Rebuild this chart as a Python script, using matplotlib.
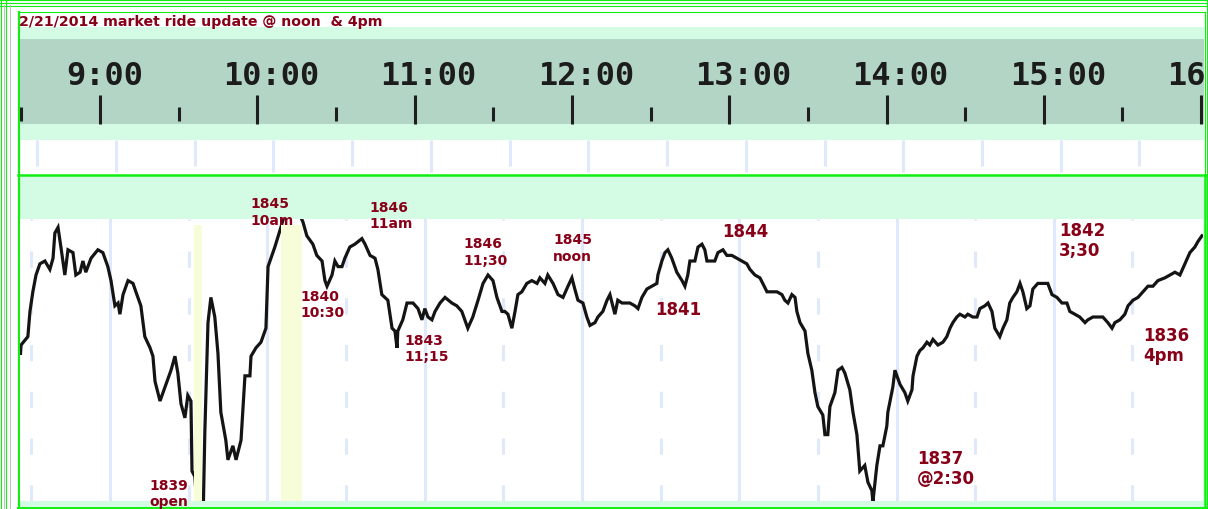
import matplotlib
matplotlib.use("Agg")
import matplotlib.pyplot as plt
from matplotlib.patches import Rectangle

# S&P intraday trace, 2/21/2014 (minutes after 9:00, price)
minutes = [
    -34.1, -33.9, -31.3, -30.5, -29.4, -28.2, -26.7, -24.8, -22.9, -21.7,
    -21.0, -19.8, -18.7, -17.2, -16.0, -14.1, -13.0, -11.4, -10.3, -9.2,
    -7.2, -4.6, -2.7, -0.8, 0.4, 1.9, 3.1, 3.8, 5.0, 6.9,
    8.8, 9.9, 11.8, 13.3, 15.3, 16.4, 17.2, 19.1, 21.0, 23.3,
    24.8, 25.9, 27.1, 28.6, 29.7, 30.9, 31.3, 32.4, 33.6, 35.5,
    36.2, 37.4, 38.5, 40.0, 41.2, 42.3, 44.2, 45.0, 46.9, 48.1,
    50.0, 51.5, 53.4, 53.8, 55.7, 57.6, 59.5, 60.3, 62.9, 65.2,
    66.7, 69.4, 72.1, 73.6, 75.1, 77.4, 78.9, 80.9, 82.0, 82.8,
    84.7, 85.8, 87.0, 88.5, 89.6, 91.5, 93.4, 96.1, 97.3, 99.2,
    101.1, 102.2, 103.7, 106.0, 107.6, 108.7, 109.5, 109.8, 111.7, 113.3,
    115.6, 117.5, 119.0, 120.1, 121.3, 122.8, 124.0, 125.9, 127.8, 130.4,
    132.3, 134.2, 136.5, 138.4, 140.4, 142.3, 144.2, 146.1, 147.6, 149.5,
    150.6, 151.8, 153.3, 154.5, 155.6, 157.1, 159.0, 160.9, 162.9, 164.0,
    165.9, 167.0, 169.0, 170.9, 172.8, 174.7, 176.2, 177.3, 178.5, 180.4,
    181.9, 183.1, 185.0, 186.1, 188.0, 189.6, 190.7, 191.8, 192.6, 193.7,
    195.3, 196.4, 198.3, 200.2, 201.4, 202.9, 204.8, 206.7, 208.6, 209.0,
    210.5, 211.7, 212.8, 214.3, 216.2, 218.2, 219.3, 220.4, 221.2, 223.1,
    224.3, 225.8, 226.9, 227.7, 229.6, 230.7, 231.9, 233.8, 235.3, 237.2,
    239.1, 241.0, 242.9, 244.1, 246.0, 247.9, 249.0, 250.6, 252.5, 254.4,
    256.3, 257.4, 258.6, 260.1, 261.3, 262.0, 263.2, 265.1, 266.2, 267.7,
    268.9, 270.0, 271.9, 272.7, 273.8, 274.6, 276.5, 277.7, 279.2, 280.3,
    282.2, 283.4, 284.9, 286.0, 287.9, 289.1, 290.6, 291.0, 292.5, 293.7,
    294.8, 296.3, 296.7, 298.6, 299.4, 301.3, 303.2, 304.3, 305.9, 306.3,
    307.8, 308.9, 310.1, 311.6, 312.7, 313.9, 315.8, 317.7, 319.2, 320.4,
    321.5, 323.0, 324.2, 326.1, 327.2, 329.1, 330.7, 331.8, 333.7, 334.9,
    336.4, 337.5, 339.4, 340.6, 342.1, 343.2, 344.4, 345.9, 347.1, 348.2,
    349.7, 350.9, 352.0, 353.9, 355.8, 357.7, 359.3, 361.2, 363.1, 365.0,
    366.1, 368.0, 369.9, 371.9, 373.0, 374.9, 376.8, 378.7, 380.6, 382.2,
    383.3, 385.2, 387.1, 388.3, 390.2, 392.1, 394.0, 395.9, 397.8, 399.7,
    402.4, 404.3, 406.2, 408.1, 410.0, 411.9, 413.8, 415.0, 416.5,
]
prices = [
    1841.7, 1842.0, 1842.3, 1843.2, 1843.9, 1844.5, 1844.9, 1845.0, 1844.7, 1845.1,
    1846.0, 1846.2, 1845.5, 1844.5, 1845.4, 1845.3, 1844.5, 1844.6, 1845.0, 1844.6,
    1845.1, 1845.4, 1845.3, 1844.8, 1844.3, 1843.4, 1843.5, 1843.1, 1843.8, 1844.3,
    1844.2, 1843.9, 1843.4, 1842.3, 1841.9, 1841.6, 1840.7, 1840.0, 1840.5, 1841.1,
    1841.6, 1841.0, 1839.9, 1839.4, 1840.2, 1840.0, 1837.5, 1837.3, 1835.6, 1835.6,
    1838.9, 1842.8, 1843.7, 1843.0, 1841.7, 1839.6, 1838.6, 1837.9, 1838.4, 1837.9,
    1838.6, 1840.9, 1840.9, 1841.6, 1841.9, 1842.1, 1842.6, 1844.8, 1845.5, 1846.2,
    1846.7, 1847.0, 1846.7, 1846.4, 1845.9, 1845.6, 1845.2, 1845.0, 1844.3, 1844.1,
    1844.5, 1845.0, 1844.8, 1844.8, 1845.1, 1845.5, 1845.6, 1845.8, 1845.6, 1845.2,
    1845.1, 1844.7, 1843.8, 1843.6, 1842.6, 1842.5, 1841.9, 1842.5, 1842.9, 1843.5,
    1843.5, 1843.3, 1842.9, 1843.3, 1843.0, 1842.9, 1843.2, 1843.5, 1843.7, 1843.5,
    1843.4, 1843.2, 1842.6, 1843.0, 1843.6, 1844.2, 1844.5, 1844.3, 1843.7, 1843.2,
    1843.2, 1843.1, 1842.6, 1843.2, 1843.8, 1843.9, 1844.2, 1844.3, 1844.2, 1844.4,
    1844.2, 1844.5, 1844.2, 1843.8, 1843.7, 1844.1, 1844.4, 1844.0, 1843.6, 1843.5,
    1843.0, 1842.7, 1842.8, 1843.0, 1843.2, 1843.6, 1843.8, 1843.4, 1843.1, 1843.6,
    1843.5, 1843.5, 1843.5, 1843.4, 1843.3, 1843.7, 1844.0, 1844.1, 1844.2, 1844.5,
    1845.0, 1845.3, 1845.4, 1845.1, 1844.6, 1844.3, 1844.1, 1844.5, 1845.0, 1845.0,
    1845.5, 1845.6, 1845.4, 1845.0, 1845.0, 1845.0, 1845.3, 1845.4, 1845.2, 1845.2,
    1845.1, 1845.0, 1844.9, 1844.7, 1844.5, 1844.4, 1844.2, 1843.9, 1843.9, 1843.9,
    1843.8, 1843.6, 1843.5, 1843.8, 1843.7, 1843.2, 1842.8, 1842.5, 1841.7, 1841.1,
    1840.3, 1839.8, 1839.5, 1838.8, 1838.8, 1839.8, 1840.3, 1841.1, 1841.2, 1841.0,
    1840.4, 1839.6, 1838.8, 1837.5, 1837.7, 1837.1, 1836.8, 1836.4, 1837.7, 1838.4,
    1838.4, 1839.1, 1839.6, 1840.5, 1841.1, 1840.6, 1840.3, 1840.0, 1840.4, 1840.9,
    1841.6, 1841.8, 1841.9, 1842.1, 1842.0, 1842.2, 1842.0, 1842.1, 1842.3, 1842.6,
    1842.8, 1843.0, 1843.1, 1843.0, 1843.1, 1843.0, 1843.0, 1843.3, 1843.4, 1843.5,
    1843.2, 1842.6, 1842.3, 1842.6, 1842.9, 1843.5, 1843.7, 1843.9, 1844.2, 1843.9,
    1843.3, 1843.4, 1844.0, 1844.2, 1844.2, 1844.2, 1843.8, 1843.7, 1843.5, 1843.5,
    1843.2, 1843.1, 1843.0, 1842.8, 1842.9, 1843.0, 1843.0, 1843.0, 1842.8, 1842.6,
    1842.8, 1842.9, 1843.1, 1843.4, 1843.6, 1843.7, 1843.9, 1844.1, 1844.1, 1844.3,
    1844.4, 1844.5, 1844.6, 1844.5, 1844.9, 1845.3, 1845.5, 1845.7, 1845.9,
]

# header clock labels (minutes after 9:00)
clock_minutes = [0, 60, 120, 180, 240, 300, 360, 420]
clock_labels = ["9:00", "10:00", "11:00", "12:00", "13:00", "14:00", "15:00", "16:00"]

# highlighted minutes (open, 10am)
bands = [(32.0, 35.1), (65.2, 73.2)]

# hand written notes
notes = ["1839\nopen", "1845\n10am", "1840\n10:30", "1846\n11am", "1843\n11;15",
         "1846\n11;30", "1845\nnoon", "1841", "1844", "1837\n@2:30",
         "1842\n3;30", "1836\n4pm"]
note_minutes = [14.9, 53.4, 72.5, 98.8, 112.5, 135.0, 169.0, 207.9, 233.4,
                307.8, 361.9, 394.0]
note_prices = [1836.71, 1846.77, 1843.46, 1846.63, 1841.88, 1845.34, 1845.48,
               1843.29, 1846.07, 1837.61, 1845.75, 1842.0]
note_big = [False, False, False, False, False, False, False, True, True,
            True, True, True]

title = "2/21/2014 market ride update @ noon  & 4pm"

W, H = 1208, 510
LIME = "#11ee11"
PALE = "#d4fbe4"
SAGE = "#b3d5c5"
MAROON = "#880018"
GRID = "#dfe9fb"


def box(x0, y0, x1, y1):
    return [x0 / W, 1 - y1 / H, (x1 - x0) / W, (y1 - y0) / H]


fig = plt.figure(figsize=(W / 100, H / 100), dpi=100)
fig.patch.set_facecolor("white")

# background frame in pixel units
bg = fig.add_axes([0, 0, 1, 1])
bg.set_xlim(0, W)
bg.set_ylim(H, 0)
bg.axis("off")

for y in [1, 4, 6.5]:
    bg.plot([0, W], [y, y], color=LIME, lw=0.8)
for x in [1, 6]:
    bg.plot([x, x], [0, H], color=LIME, lw=0.8)
for x in [3.5, 9.5]:
    bg.plot([x, x], [6, H], color="#b8c8b8", lw=0.8)
bg.plot([1207, 1207], [0, H], color=LIME, lw=0.8)
bg.plot([18, 1205], [13, 13], color=LIME, lw=0.8)
bg.plot([1204.5, 1204.5], [13, 176], color=LIME, lw=0.8)
bg.plot([19, 19], [13, 509], color=LIME, lw=1.6)

# lower panel
bg.add_patch(Rectangle((20, 177), 1185, 331, facecolor=PALE, edgecolor="none"))
bg.plot([18, 1206], [176, 176], color=LIME, lw=1.8)
bg.plot([1205, 1205], [176, 509], color=LIME, lw=1.8)
bg.plot([18, 1206], [508.5, 508.5], color=LIME, lw=1.4)

# header time ruler
hdr = fig.add_axes(box(20, 28, 1204, 141))
hdr.set_xlim(-30.5, 421.1)
hdr.set_ylim(141, 28)
hdr.axis("off")
hdr.axhspan(28, 141, color=PALE, lw=0)
hdr.axhspan(40, 125, color=SAGE, lw=0)
hdr.vlines(clock_minutes, 96, 125, color="#1e1e1e", lw=2.2)
half = [m - 30 for m in clock_minutes]
hdr.vlines(half, 108, 122, color="#1e1e1e", lw=2.2)
for m, lab in zip(clock_minutes, clock_labels):
    hdr.text(m - 13.0, 85, lab, ha="left", va="baseline", fontsize=23,
             family="DejaVu Sans Mono", fontweight="bold", color="#1c1c1c",
             clip_on=True)

# thin strip under the ruler
strip = fig.add_axes(box(20, 141, 1204, 175))
strip.set_xlim(-36.6, 414.6)
strip.set_ylim(175, 141)
strip.axis("off")
strip.vlines(clock_minutes, 141, 173, color=GRID, lw=2.2)
strip.vlines(half, 141, 167, color=GRID, lw=2.2)

# main chart
ax = fig.add_axes(box(20, 220, 1203, 502))
ax.set_xlim(-34.3, 416.9)
ax.set_ylim(1836.43, 1846.5)
ax.set_facecolor("white")
for s in ax.spines.values():
    s.set_visible(False)
ax.set_xticks([])
ax.set_yticks([])

for m in clock_minutes:
    ax.axvline(m, color=GRID, lw=2.2, zorder=1)
for m in half:
    ax.axvline(m, color=GRID, lw=2.2, linestyle=(0, (5.3, 10)), zorder=1)

ax.plot(minutes, prices, color="#141414", lw=2.3, zorder=2,
        solid_joinstyle="miter")

for a, b in bands:
    ax.axvspan(a, b, ymin=0, ymax=0.979, color="#f7fcd9", lw=0, zorder=3)

for txt, m, p, big in zip(notes, note_minutes, note_prices, note_big):
    ax.text(m, p, txt, ha="left", va="center", color=MAROON,
            fontsize=12 if big else 10, fontweight="bold",
            linespacing=1.15 if big else 1.2, clip_on=False, zorder=5)

# title on top of everything
fig.text(19 / W, 1 - 22 / H, title, ha="left", va="center", fontsize=10.2,
         fontweight="bold", color=MAROON, family="DejaVu Sans", zorder=10)

fig.savefig("out.png", dpi=100)
